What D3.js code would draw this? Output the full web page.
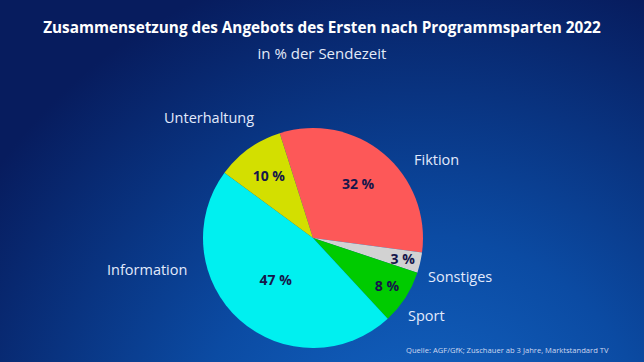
<!DOCTYPE html>
<html>
<head>
<meta charset="utf-8">
<script src="https://cdn.jsdelivr.net/npm/d3@7"></script>
<style>
  html, body { margin: 0; padding: 0; background: #061a5c; }
  svg { display: block; }
</style>
</head>
<body>
<div id="container"></div>
<script>
// Daten
var categories = ["Fiktion", "Sonstiges", "Sport", "Information", "Unterhaltung"];
var shares = [32, 3, 8, 47, 10];
var shareLabels = ["32 %", "3 %", "8 %", "47 %", "10 %"];
var colors = ["#fd5858", "#d2d2d2", "#00cb00", "#00f0f0", "#d3df00"];

var titleText = "Zusammensetzung des Angebots des Ersten nach Programmsparten 2022";
var subtitleText = "in % der Sendezeit";
var sourceText = "Quelle: AGF/GfK; Zuschauer ab 3 Jahre, Marktstandard TV";

var width = 644, height = 362;
var cx = 313, cy = 238, radius = 110;

// Layout der Beschriftungen (nur Position)
var innerLabelRadius = [70, 92, 88, 56, 76];
var outerLabelPos = {
  "Fiktion": [414, 165],
  "Sonstiges": [428, 282],
  "Sport": [408, 321],
  "Information": [107, 275],
  "Unterhaltung": [164, 123]
};

var svg = d3.select("#container").append("svg")
  .attr("width", width).attr("height", height);

var defs = svg.append("defs");
var grad = defs.append("radialGradient")
  .attr("id", "bg")
  .attr("gradientUnits", "userSpaceOnUse")
  .attr("cx", 420).attr("cy", 470).attr("r", 520);
grad.append("stop").attr("offset", "0%").attr("stop-color", "#1468c8");
grad.append("stop").attr("offset", "45%").attr("stop-color", "#0b4ba3");
grad.append("stop").attr("offset", "100%").attr("stop-color", "#071c5e");

svg.append("rect").attr("width", width).attr("height", height).attr("fill", "url(#bg)");

svg.append("text")
  .attr("x", 322).attr("y", 33)
  .attr("text-anchor", "middle")
  .style("font-family", "'Open Sans', 'Noto Sans', sans-serif")
  .style("font-weight", "700")
  .style("font-size", "15.3px")
  .attr("fill", "#ffffff")
  .text(titleText);

svg.append("text")
  .attr("x", 322).attr("y", 59)
  .attr("text-anchor", "middle")
  .style("font-family", "'Open Sans', 'Noto Sans', sans-serif")
  .style("font-size", "15px")
  .attr("fill", "#e4eaf8")
  .text(subtitleText);

var data = categories.map(function(c, i) {
  return { name: c, value: shares[i], label: shareLabels[i], color: colors[i], lr: innerLabelRadius[i] };
});

var startA = -0.307;
var pie = d3.pie().sort(null).value(function(d) { return d.value; })
  .startAngle(startA).endAngle(startA + 2 * Math.PI);
var arcs = pie(data);

var arc = d3.arc().innerRadius(0).outerRadius(radius);

var g = svg.append("g").attr("transform", "translate(" + cx + "," + cy + ")");

g.selectAll("path.slice")
  .data(arcs)
  .enter().append("path")
  .attr("class", "slice")
  .attr("d", arc)
  .attr("fill", function(d) { return d.data.color; });

g.selectAll("text.pct")
  .data(arcs)
  .enter().append("text")
  .attr("class", "pct")
  .attr("transform", function(d) {
    var r = d.data.lr;
    var c = d3.arc().innerRadius(r).outerRadius(r).centroid(d);
    return "translate(" + c[0] + "," + c[1] + ")";
  })
  .attr("text-anchor", "middle")
  .attr("dy", "0.35em")
  .style("font-family", "'Open Sans', 'Noto Sans', sans-serif")
  .style("font-weight", "700")
  .style("font-size", "14px")
  .attr("fill", "#16164a")
  .text(function(d) { return d.data.label; });

svg.selectAll("text.cat")
  .data(data)
  .enter().append("text")
  .attr("class", "cat")
  .attr("x", function(d) { return outerLabelPos[d.name][0]; })
  .attr("y", function(d) { return outerLabelPos[d.name][1]; })
  .style("font-family", "'Open Sans', 'Noto Sans', sans-serif")
  .style("font-size", "14.5px")
  .attr("fill", "#e2eafc")
  .text(function(d) { return d.name; });

svg.append("text")
  .attr("x", 406).attr("y", 353)
  .style("font-family", "'Open Sans', 'Noto Sans', sans-serif")
  .style("font-size", "7.6px")
  .attr("fill", "#cdd8f0")
  .text(sourceText);
</script>
</body>
</html>
